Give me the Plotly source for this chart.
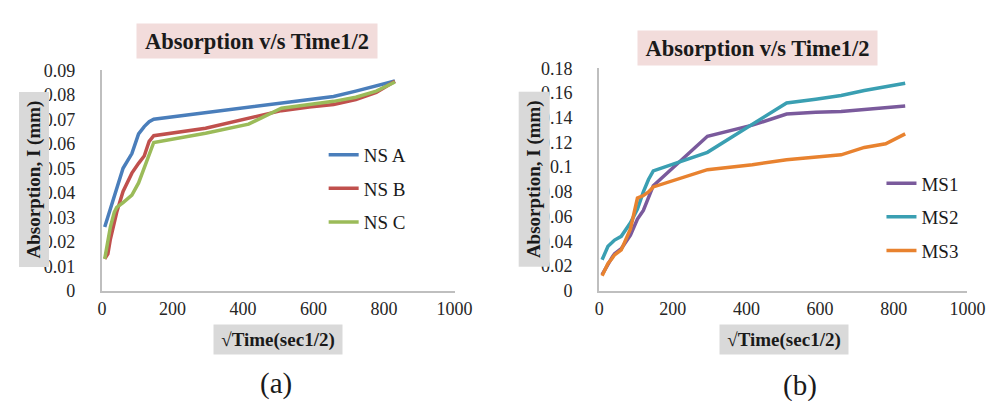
import plotly.graph_objects as go
from plotly.subplots import make_subplots

# sqrt(time) values (sec^1/2)
sqrt_time = [8, 17, 24, 35, 42, 60, 85, 104, 120, 134, 147, 294, 416, 509, 588, 657, 720, 778, 831]

ns_a = [0.026, 0.030, 0.034, 0.039, 0.041, 0.050, 0.056, 0.064, 0.067, 0.069, 0.070,
        0.0727, 0.0748, 0.0768, 0.078, 0.0793, 0.0815, 0.0835, 0.0856]
ns_b = [0.013, 0.015, 0.021, 0.028, 0.032, 0.0405, 0.048, 0.052, 0.055, 0.061, 0.0633,
        0.0663, 0.0705, 0.0735, 0.075, 0.076, 0.078, 0.081, 0.0855]
ns_c = [0.013, 0.020, 0.026, 0.032, 0.034, 0.036, 0.039, 0.044, 0.050, 0.055, 0.0605,
        0.0643, 0.068, 0.0745, 0.076, 0.0773, 0.079, 0.0815, 0.0852]

ms1 = [0.013, 0.018, 0.022, 0.027, 0.030, 0.034, 0.045, 0.058, 0.065, 0.075, 0.085,
       0.125, 0.134, 0.143, 0.1445, 0.145, 0.1465, 0.148, 0.1495]
ms2 = [0.025, 0.032, 0.036, 0.039, 0.041, 0.044, 0.055, 0.066, 0.080, 0.090, 0.097,
       0.112, 0.135, 0.152, 0.155, 0.158, 0.162, 0.165, 0.168]
ms3 = [0.012, 0.017, 0.022, 0.026, 0.029, 0.033, 0.050, 0.075, 0.077, 0.080, 0.084,
       0.098, 0.102, 0.106, 0.108, 0.110, 0.116, 0.119, 0.127]

x_ticks = [0, 200, 400, 600, 800, 1000]
y_ticks_a = [0, 0.01, 0.02, 0.03, 0.04, 0.05, 0.06, 0.07, 0.08, 0.09]
y_ticks_b = [0, 0.02, 0.04, 0.06, 0.08, 0.1, 0.12, 0.14, 0.16, 0.18]
y_tick_text_a = ["0", "0.01", "0.02", "0.03", "0.04", "0.05", "0.06", "0.07", "0.08", "0.09"]
y_tick_text_b = ["0", "0.02", "0.04", "0.06", "0.08", "0.1", "0.12", "0.14", "0.16", "0.18"]

title_text = "Absorption v/s Time1/2"
y_title = "Absorption, I (mm)"
x_title = "√Time(sec1/2)"
panel_labels = ["(a)", "(b)"]

W, H = 996, 401
SERIF = "Times New Roman, Liberation Serif, DejaVu Serif, serif"

fig = make_subplots(rows=1, cols=2)

series_a = [("NS A", ns_a, "#4a7ebb"), ("NS B", ns_b, "#c0504d"), ("NS C", ns_c, "#9bbb59")]
series_b = [("MS1", ms1, "#7a5a9c"), ("MS2", ms2, "#3a9fb2"), ("MS3", ms3, "#e8822f")]

for name, ys, col in series_a:
    fig.add_trace(go.Scatter(x=sqrt_time, y=ys, name=name, mode="lines",
                             line=dict(color=col, width=3.5), legend="legend",
                             legendgroup=name), row=1, col=1)
for name, ys, col in series_b:
    fig.add_trace(go.Scatter(x=sqrt_time, y=ys, name=name, mode="lines",
                             line=dict(color=col, width=3.5), legend="legend2",
                             legendgroup=name), row=1, col=2)

def px_x(p):
    return p / W

def px_y(p):
    return 1 - p / H

axis_common = dict(showgrid=False, zeroline=False, showline=True, linecolor="#bfbfbf",
                   linewidth=2, ticks="", tickfont=dict(family=SERIF, size=18, color="#262626"))

fig.update_xaxes(range=[0, 1000], tickvals=x_ticks, ticklabelstandoff=1, **axis_common)
fig.update_xaxes(domain=[px_x(91), px_x(452)], row=1, col=1)
fig.update_xaxes(domain=[px_x(600), px_x(977)], row=1, col=2)
fig.update_yaxes(ticklabelstandoff=21, **axis_common)
fig.update_yaxes(range=[0, 0.09], tickvals=y_ticks_a, ticktext=y_tick_text_a,
                 domain=[px_y(287), px_y(55)], row=1, col=1)
fig.update_yaxes(range=[0, 0.18], tickvals=y_ticks_b, ticktext=y_tick_text_b,
                 domain=[px_y(287), px_y(53)], row=1, col=2)

annots = []
def box(text, cx, cy, w, h, bg, angle=0, size=17, bold=True):
    t = "<b>" + text + "</b>" if bold else text
    annots.append(dict(text=t, x=px_x(cx), y=px_y(cy), xref="paper", yref="paper",
                       xanchor="center", yanchor="middle", showarrow=False,
                       width=w, height=h, bgcolor=bg, borderpad=0, textangle=angle,
                       font=dict(family=SERIF, size=size, color="#1a1a1a")))

box(title_text, 250, 24, 240, 34, "#f2dcdb", size=22.5)
box(title_text, 762, 32, 239, 34, "#f2dcdb", size=22.5)
box(y_title, 21.5, 170, 174, 29, "#d9d9d9", angle=-90, size=19)
box(y_title, 533, 170, 174, 30, "#d9d9d9", angle=-90, size=19)
box(x_title, 271, 338, 128, 29, "#d9d9d9", size=19)
box(x_title, 789, 338, 128, 29, "#d9d9d9", size=19)
box(panel_labels[0], 269, 385, None, None, "rgba(0,0,0,0)", size=29, bold=False)
box(panel_labels[1], 806, 387, None, None, "rgba(0,0,0,0)", size=29, bold=False)

legend_common = dict(font=dict(family=SERIF, size=19, color="#1a1a1a"),
                     bgcolor="rgba(0,0,0,0)", tracegroupgap=6, itemwidth=30,
                     xanchor="left", yanchor="top")

fig.update_layout(
    width=W, height=H,
    margin=dict(l=0, r=0, t=0, b=0),
    paper_bgcolor="white", plot_bgcolor="white",
    showlegend=True,
    legend=dict(x=px_x(318), y=px_y(124), **legend_common),
    legend2=dict(x=px_x(889), y=px_y(154), **legend_common),
    annotations=annots,
)

fig.write_html("out.html")
